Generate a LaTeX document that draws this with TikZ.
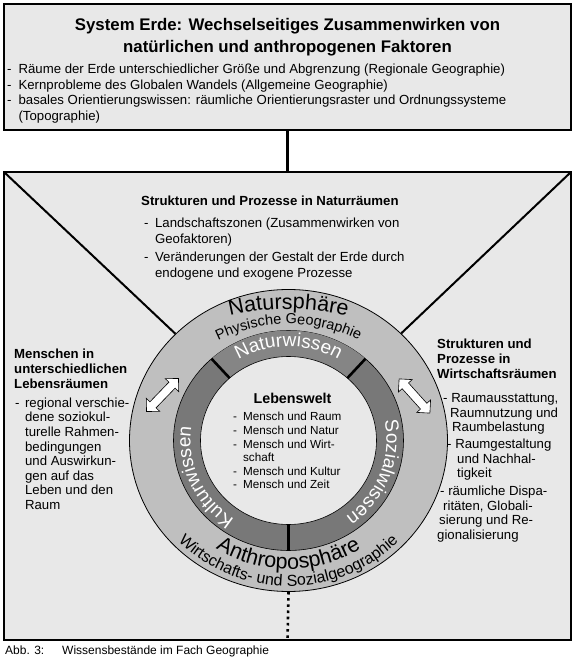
\documentclass[tikz,border=0pt]{standalone}
\usepackage{fontspec}
\setmainfont{Liberation Sans}
\usetikzlibrary{calc, positioning, shapes.geometric, shapes.arrows, decorations.text}

\definecolor{paper}{gray}{0.91}
\definecolor{ringlight}{gray}{0.75}
\definecolor{ringdark}{gray}{0.47}
\definecolor{ringtop}{gray}{0.52}

\newcommand\erdefont{\fontsize{16.8}{22}\selectfont\bfseries}
\newcommand\listfont{\fontsize{13.2}{15.5}\selectfont}
\newcommand\colfont{\fontsize{13.2}{14.6}\selectfont}
\newcommand\lwheadfont{\fontsize{14.3}{16}\selectfont\bfseries}
\newcommand\lwfont{\fontsize{11.7}{13.6}\selectfont}
\newcommand\sphfont{\fontsize{21.5}{22}\selectfont}
\newcommand\geofont{\fontsize{14.5}{15}\selectfont}
\newcommand\wirtfont{\fontsize{16}{16}\selectfont}
\newcommand\wissfont{\fontsize{19}{19}\selectfont}
\newcommand\abbfont{\fontsize{12}{14}\selectfont}

\begin{document}
\begin{tikzpicture}[x=1pt, y=1pt,
  panel/.style={draw, line width=2.8pt, fill=paper, inner sep=0, outer sep=0, minimum width=567pt},
  link/.style={line width=2.4pt},
  spoke/.style={line width=2pt},
  txt/.style={inner sep=0, anchor=base west, font=\listfont},
  divider/.style={line width=2.6pt},
  wechsel/.style={draw, line width=0.6pt, fill=white, shape=double arrow, minimum height=46pt, double arrow head extend=5pt, inner sep=4pt},
  dots/.style={line width=2.6pt, dash pattern=on 2.6pt off 3.6pt}
]
\useasboundingbox (0,0) rectangle (575,665);

% Rahmen
\node (erde) [panel, minimum height=126pt] at (287.5,598) {};
\node (frame) [panel, minimum height=468pt] at (287.5,259) {};
\draw[link] (erde.south) -- (frame.north);

% Kreis
\coordinate (c) at (288.5,224.5);
\node (geo) [draw, line width=0.8pt, fill=ringlight, ellipse, minimum width=318pt, minimum height=302pt, inner sep=0] at (c) {};
\draw[spoke] (frame.north west) -- (geo);
\draw[spoke] (frame.north east) -- (geo);
\draw[line width=0.6pt, fill=ringdark] (c) ellipse [x radius=115, y radius=110];
\fill[ringtop] (c) -- ++(132:115 and 110) arc[start angle=132, end angle=48, x radius=115, y radius=110] -- cycle;
\draw[line width=0.6pt, fill=paper] (c) ellipse [x radius=88, y radius=84];
\foreach \w in {132,48,270}
  \draw[divider] ($(c)+(\w:88 and 84)$) -- ($(c)+(\w:115 and 110)$);

% Beschriftung der Ringe
\path[decorate, decoration={text along path, text align=center, text={|\sphfont|Natursphäre}}]
  (288.5,104) ++(105:252) arc[start angle=105, end angle=75, radius=252];
\path[decorate, decoration={text along path, text align=center, text={|\geofont|Physische Geographie}}]
  (288.5,181) ++(120:160) arc[start angle=120, end angle=60, radius=160];
\path[decorate, decoration={text along path, text align=center, text={|\sphfont|Anthroposphäre}}]
  (c) ++(215:135 and 128.5) arc[start angle=215, end angle=325, x radius=135, y radius=128.5];
\path[decorate, decoration={text along path, text align=center, text={|\wirtfont|Wirtschafts- und Sozialgeographie}}]
  (c) ++(205:153 and 145.5) arc[start angle=205, end angle=335, x radius=153, y radius=145.5];
\path[decorate, decoration={text along path, text align=center, text color=white, text={|\wissfont|Naturwissen}}]
  (c) ++(125:98 and 94) arc[start angle=125, end angle=55, x radius=98, y radius=94];
\path[decorate, decoration={text along path, text align=center, text color=white, text={|\wissfont|Sozialwissen}}]
  (c) ++(17:98 and 94) arc[start angle=17, end angle=-59, x radius=98, y radius=94];
\path[decorate, decoration={text along path, text align=center, text color=white, text={|\wissfont|Kulturwissen}}]
  (c) ++(242:98 and 94) arc[start angle=242, end angle=166, x radius=98, y radius=94];

\node (pfeilL) [wechsel, rotate=46] at (162.5,270) {};
\node (pfeilR) [wechsel, rotate=-48] at (414.5,269) {};

% Texte
\node (titel) [txt, font=\erdefont, anchor=base] at (287.5,634) {\begin{tabular}[t]{@{}c@{}}
  System Erde: Wechselseitiges Zusammenwirken von\\
  natürlichen und anthropogenen Faktoren
\end{tabular}};
\node (inhalt) [txt] at (7,591) {\begin{tabular}[t]{@{}l@{\hspace{7pt}}l@{}}
  - & Räume der Erde unterschiedlicher Größe und Abgrenzung (Regionale Geographie)\\
  - & Kernprobleme des Globalen Wandels (Allgemeine Geographie)\\
  - & basales Orientierungswissen: räumliche Orientierungsraster und Ordnungssysteme\\
    & (Topographie)
\end{tabular}};

\node (naturraum) [txt, font=\fontsize{13.2}{16}\selectfont] at (141,459) {\begin{tabular}[t]{@{\hspace{3pt}}l@{\hspace{6.5pt}}l@{}}
  \multicolumn{2}{@{}l@{}}{\textbf{Strukturen und Prozesse in Naturräumen}}\\[6pt]
  - & Landschaftszonen (Zusammenwirken von\\
    & Geofaktoren)\\[2pt]
  - & Veränderungen der Gestalt der Erde durch\\
    & endogene und exogene Prozesse
\end{tabular}};

\node (lebensraum) [txt, font=\colfont] at (14,306) {\begin{tabular}[t]{@{\hspace{1pt}}l@{\hspace{5.5pt}}l@{}}
  \multicolumn{2}{@{}l@{}}{\textbf{Menschen in}}\\
  \multicolumn{2}{@{}l@{}}{\textbf{unterschiedlichen}}\\
  \multicolumn{2}{@{}l@{}}{\textbf{Lebensräumen}}\\[4.5pt]
  - & regional verschie-\\
    & dene soziokul-\\
    & turelle Rahmen-\\
    & bedingungen\\
    & und Auswirkun-\\
    & gen auf das\\
    & Leben und den\\
    & Raum
\end{tabular}};

\node (wirtschaftsraum) [txt, font=\colfont] at (437,316) {\begin{tabular}[t]{@{}l@{}}
  \textbf{Strukturen und}\\
  \textbf{Prozesse in}\\
  \textbf{Wirtschaftsräumen}\\[10pt]
  \hspace*{6pt}- Raumausstattung,\\
  \hspace*{13pt}Raumnutzung und\\
  \hspace*{15pt}Raumbelastung\\[2.2pt]
  \hspace*{10pt}- Raumgestaltung\\
  \hspace*{20pt}und Nachhal-\\
  \hspace*{20pt}tigkeit\\[3.2pt]
  \hspace*{3pt}- räumliche Dispa-\\
  \hspace*{6pt}ritäten, Globali-\\
  \hspace*{2pt}sierung und Re-\\
  gionalisierung
\end{tabular}};

\node (lebenswelt) [txt, font=\lwheadfont, anchor=base] at (292.5,261) {Lebenswelt};
\node (lwliste) [txt, font=\lwfont] at (233,244) {\begin{tabular}[t]{@{}l@{\hspace{6pt}}l@{}}
  - & Mensch und Raum\\
  - & Mensch und Natur\\
  - & Mensch und Wirt-\\
    & schaft\\
  - & Mensch und Kultur\\
  - & Mensch und Zeit
\end{tabular}};

\draw[dots] (geo.south) -- (frame.south);

\node (abb) [txt, font=\abbfont] at (5,10) {\makebox[57pt][l]{Abb. 3:}Wissensbestände im Fach Geographie};
\end{tikzpicture}
\end{document}
